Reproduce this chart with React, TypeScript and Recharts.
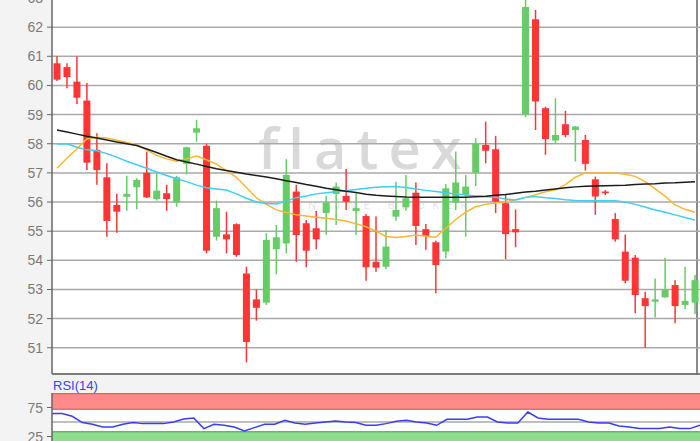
import React from 'react';
import { ComposedChart, Bar, Line, XAxis, YAxis, CartesianGrid, ReferenceArea, ReferenceLine } from 'recharts';

const open = [60.76, 60.63, 60.13, 59.48, 57.79, 56.85, 55.9, 56.18, 56.51, 57.0, 56.1, 56.3, 55.98, 57.31, 58.38, 57.93, 54.81, 54.89, 55.24, 53.55, 52.66, 52.55, 54.38, 54.58, 56.36, 55.27, 55.1, 55.62, 56.28, 56.21, 55.69, 55.52, 53.95, 53.78, 55.5, 55.82, 56.32, 55.07, 54.62, 54.3, 55.98, 56.24, 57.01, 57.96, 57.81, 55.96, 55.07, 59.02, 62.27, 59.22, 58.11, 58.67, 58.47, 58.13, 56.78, 56.36, 55.42, 54.3, 54.09, 52.7, 52.58, 52.73, 53.15, 52.47, 52.55];
const high = [61.0, 60.76, 61.0, 60.08, 58.36, 57.33, 56.28, 56.9, 56.82, 57.73, 57.0, 56.59, 56.9, 57.9, 58.82, 58.0, 56.05, 55.67, 55.27, 53.78, 53.0, 54.93, 55.21, 57.47, 56.59, 55.38, 55.69, 56.21, 56.67, 57.13, 56.3, 55.59, 55.5, 55.04, 56.7, 56.93, 56.67, 55.25, 54.67, 56.62, 57.73, 56.93, 58.19, 58.76, 58.27, 56.24, 55.75, 62.94, 62.59, 59.27, 59.56, 59.13, 58.61, 58.3, 56.87, 56.41, 55.62, 54.89, 54.18, 52.92, 53.38, 54.09, 53.32, 53.78, 53.5];
const low = [60.15, 59.9, 59.36, 57.1, 56.59, 54.81, 54.95, 55.7, 55.75, 56.14, 56.05, 55.7, 55.84, 56.95, 58.07, 54.24, 54.68, 54.24, 54.12, 50.5, 51.93, 52.47, 53.52, 54.24, 53.95, 53.76, 54.38, 54.87, 55.21, 55.73, 54.87, 53.3, 53.61, 53.69, 55.36, 55.7, 54.53, 54.36, 52.87, 54.07, 55.73, 54.81, 56.55, 57.33, 55.62, 54.04, 54.45, 58.91, 58.47, 57.62, 58.0, 58.22, 57.39, 57.08, 55.56, 56.24, 54.64, 53.21, 52.18, 51.0, 52.04, 52.72, 51.84, 52.32, 52.16];
const close = [60.2, 60.29, 59.58, 57.35, 57.1, 55.35, 55.67, 56.28, 56.76, 56.16, 56.39, 56.1, 56.85, 57.88, 58.53, 54.33, 55.79, 54.72, 54.18, 51.2, 52.37, 54.7, 54.79, 56.93, 54.87, 54.33, 54.72, 55.98, 56.53, 56.01, 55.79, 53.76, 53.75, 54.47, 55.73, 56.13, 55.18, 54.84, 53.84, 56.47, 56.67, 56.53, 58.0, 57.76, 56.01, 54.9, 54.96, 62.69, 59.45, 58.16, 58.3, 58.3, 58.59, 57.31, 56.19, 56.3, 54.72, 53.3, 52.81, 52.43, 52.66, 53.0, 52.43, 52.61, 53.32];

const maOrange = [57.16, 57.5, 57.83, 58.16, 58.22, 58.2, 58.12, 58.04, 57.96, 57.78, 57.6, 57.48, 57.4, 57.48, 57.58, 57.45, 57.3, 57.08, 56.85, 56.5, 56.15, 55.92, 55.73, 55.64, 55.56, 55.52, 55.48, 55.44, 55.4, 55.35, 55.25, 55.15, 55.0, 54.82, 54.78, 54.82, 54.87, 54.83, 54.79, 55.1, 55.4, 55.65, 55.84, 55.92, 55.97, 56.01, 56.08, 56.16, 56.25, 56.35, 56.42, 56.6, 56.85, 57.0, 57.0, 57.0, 57.0, 56.95, 56.88, 56.7, 56.45, 56.2, 55.9, 55.75, 55.65];
const maCyan = [57.99, 58.0, 57.88, 57.79, 57.76, 57.66, 57.54, 57.4, 57.28, 57.16, 57.03, 56.91, 56.8, 56.7, 56.58, 56.49, 56.45, 56.41, 56.28, 56.13, 56.0, 55.95, 55.93, 56.03, 56.15, 56.21, 56.28, 56.32, 56.35, 56.39, 56.43, 56.47, 56.51, 56.52, 56.53, 56.5, 56.45, 56.4, 56.36, 56.32, 56.28, 56.24, 56.21, 56.18, 56.16, 56.1, 56.07, 56.16, 56.19, 56.15, 56.12, 56.08, 56.05, 56.04, 56.04, 56.04, 56.04, 56.0, 55.92, 55.83, 55.73, 55.65, 55.56, 55.47, 55.38];
const maBlack = [58.47, 58.4, 58.33, 58.26, 58.2, 58.13, 58.06, 58.0, 57.94, 57.82, 57.7, 57.57, 57.45, 57.37, 57.3, 57.22, 57.14, 57.08, 57.02, 56.96, 56.91, 56.86, 56.8, 56.73, 56.67, 56.6, 56.54, 56.47, 56.42, 56.37, 56.33, 56.27, 56.23, 56.21, 56.19, 56.17, 56.16, 56.16, 56.16, 56.16, 56.16, 56.16, 56.18, 56.2, 56.23, 56.26, 56.3, 56.34, 56.37, 56.41, 56.45, 56.49, 56.52, 56.54, 56.55, 56.56, 56.57, 56.58, 56.6, 56.62, 56.63, 56.65, 56.66, 56.68, 56.7];
const rsi14 = [64.5, 64.5, 59.8, 49, 46, 41.4, 41.4, 46, 49, 47.2, 47.2, 47.2, 50, 55.2, 56.9, 38.6, 46, 44.3, 41.4, 34.5, 40.3, 46, 46, 52.9, 48.3, 46, 48.3, 50, 51.7, 50, 49, 44.3, 44.3, 47.2, 51.2, 52.9, 50, 48.3, 44.3, 54.6, 54.6, 54.6, 58.6, 58.6, 50, 48.3, 48.3, 67.2, 56.9, 54.6, 54.6, 54.6, 54.6, 50, 48.3, 48.3, 43.1, 41.4, 38.6, 38.6, 38.6, 41.4, 38.6, 38.6, 44.3];

const sessions = open.map((_, i) => `T${i + 1}`);
const priceTicks = [51, 52, 53, 54, 55, 56, 57, 58, 59, 60, 61, 62, 63];
const rsiTicks = [25, 75];

const data = sessions.map((s, i) => ({
  s,
  o: open[i],
  h: high[i],
  l: low[i],
  c: close[i],
  range: [low[i], high[i]],
  m1: maOrange[i],
  m2: maCyan[i],
  m3: maBlack[i],
  rsi: rsi14[i],
}));

const RED = '#ff3535';
const GREEN = '#66cc66';
const FONT = '"Liberation Sans", Arial, sans-serif';

const Candle = (props: any) => {
  const { x, y, width, height, payload } = props;
  if (!payload) return null;
  const { o, h, l, c } = payload;
  const top = Math.min(y, y + height);
  const hh = Math.abs(height);
  const ppu = hh / (h - l);
  const cx = x + width / 2;
  const color = c >= o ? GREEN : RED;
  const bodyTop = top + (h - Math.max(o, c)) * ppu;
  const bodyH = Math.max(Math.abs(o - c) * ppu, 1.6);
  return (
    <g>
      <line x1={cx} x2={cx} y1={top} y2={top + hh} stroke={color} strokeWidth={1.5} />
      <rect x={cx - 3.5} y={bodyTop} width={7} height={bodyH} fill={color} />
    </g>
  );
};

const AxisTick = (props: any) => {
  const { x, y, payload } = props;
  return (
    <text x={x} y={y} dy={5} textAnchor="end" fill="#7a7a7a" fontSize={14} fontFamily={FONT}>
      {payload.value}
    </text>
  );
};

export default function App() {
  return (
    <div style={{ position: 'relative', width: 700, height: 441, overflow: 'hidden', background: '#f3f3f3', fontFamily: FONT }}>
      <style>{'body{margin:0;}'}</style>
      <div style={{ position: 'absolute', left: 52, top: 0, width: 648, height: 374, background: '#ffffff' }} />
      <div style={{ position: 'absolute', left: 52, top: 393, width: 648, height: 48, background: '#ffffff' }} />
      <div style={{ position: 'absolute', left: 696, top: 0, width: 1.5, height: 375, background: '#8a8a8a' }} />
      <div style={{ position: 'absolute', left: 258, top: 116, fontSize: 56, fontFamily: '"Open Sans", sans-serif', fontWeight: 600, letterSpacing: 10, color: 'rgba(160,160,160,0.4)', lineHeight: '62px' }}>flatex</div>
      <div style={{ position: 'absolute', left: 292, top: 199, fontSize: 11, fontFamily: '"Open Sans", sans-serif', letterSpacing: 7.5, color: 'rgba(160,160,160,0.32)', lineHeight: '12px' }}>ONLINE BROKER</div>

      <div style={{ position: 'absolute', left: 0, top: -2 }}>
        <ComposedChart width={700} height={378} data={data} margin={{ top: 0, right: 0, bottom: 0, left: 0 }} barCategoryGap={0}>
          <CartesianGrid vertical={false} stroke="#a9a9a9" strokeWidth={1.5} />
          <XAxis dataKey="s" height={2} tick={false} tickLine={false} axisLine={{ stroke: '#666', strokeWidth: 1.5 }} />
          <YAxis
            domain={[50.1, 63]}
            ticks={priceTicks}
            allowDataOverflow
            interval={0}
            width={52}
            tickSize={5}
            tickMargin={4}
            axisLine={{ stroke: '#666', strokeWidth: 1.5 }}
            tickLine={{ stroke: '#666' }}
            tick={<AxisTick />}
          />
          <Bar dataKey="range" shape={<Candle />} isAnimationActive={false} />
          <Line dataKey="m1" type="linear" stroke="#ffb530" strokeWidth={1.5} dot={false} isAnimationActive={false} />
          <Line dataKey="m2" type="linear" stroke="#3dcff5" strokeWidth={1.5} dot={false} isAnimationActive={false} />
          <Line dataKey="m3" type="linear" stroke="#1c1c1c" strokeWidth={1.5} dot={false} isAnimationActive={false} />
        </ComposedChart>
      </div>

      <div style={{ position: 'absolute', left: 53, top: 379, fontSize: 13, lineHeight: '13px', color: '#3344ff' }}>RSI(14)</div>

      <div style={{ position: 'absolute', left: 0, top: 393 }}>
        <ComposedChart width={700} height={58} data={data} margin={{ top: 0, right: 0, bottom: 0, left: 0 }}>
          <XAxis dataKey="s" hide />
          <YAxis
            domain={[0, 100]}
            ticks={rsiTicks}
            interval={0}
            width={52}
            tickSize={5}
            tickMargin={4}
            axisLine={{ stroke: '#666', strokeWidth: 1.5 }}
            tickLine={{ stroke: '#666' }}
            tick={<AxisTick />}
          />
          <ReferenceArea y1={72} y2={100} fill="#ff8a8a" fillOpacity={1} stroke="none" />
          <ReferenceArea y1={0} y2={33} fill="#8fdc8f" fillOpacity={1} stroke="none" />
          <ReferenceLine y={99} stroke="#e06060" strokeWidth={1.5} />
          <ReferenceLine y={72} stroke="#e07070" strokeWidth={1.5} />
          <ReferenceLine y={33} stroke="#5cbf5c" strokeWidth={1.5} />
          <ReferenceLine y={50} stroke="#aaaaaa" strokeWidth={1.5} />
          <Line dataKey="rsi" type="linear" stroke="#3b3bff" strokeWidth={1.5} dot={false} isAnimationActive={false} />
        </ComposedChart>
      </div>
    </div>
  );
}
